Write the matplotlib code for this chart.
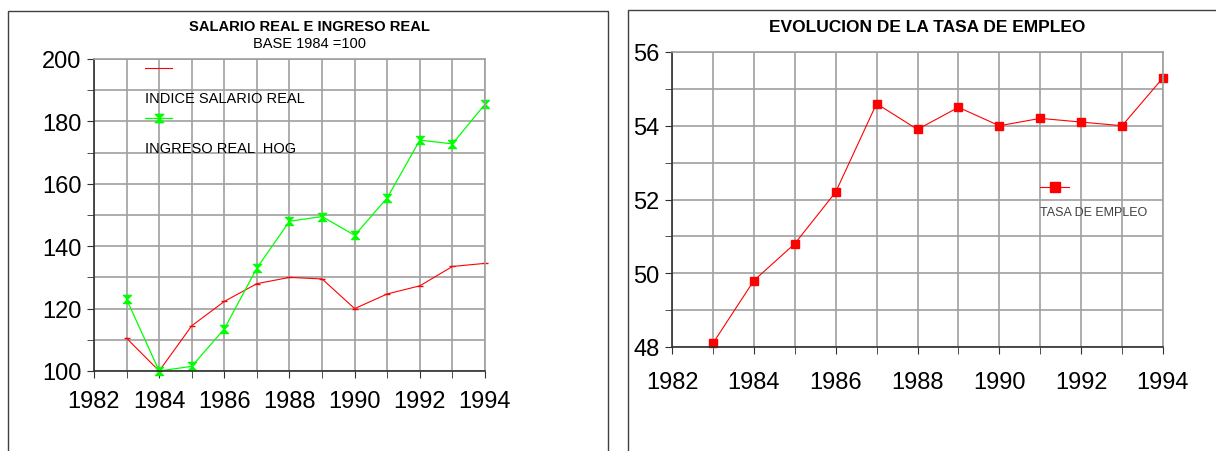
import numpy as np
import matplotlib
matplotlib.use("Agg")
import matplotlib.pyplot as plt
from matplotlib.lines import Line2D
from matplotlib.patches import Rectangle
from matplotlib.path import Path

plt.rcParams.update({"font.family": "Liberation Sans"})

years = [1983, 1984, 1985, 1986, 1987, 1988, 1989, 1990, 1991, 1992, 1993, 1994]
salario_real = [110.5, 100, 114.5, 122.3, 128, 130, 129.5, 120, 124.7, 127.3, 133.5, 134.5]
ingreso_real = [123, 100, 101.5, 113.5, 133, 148, 149.5, 143.5, 155.5, 174, 172.8, 185.5]
tasa_empleo = [48.1, 49.8, 50.8, 52.2, 54.6, 53.9, 54.5, 54.0, 54.2, 54.1, 54.0, 55.3]

RED = "#ff0000"
GREEN = "#00ff00"
GRID = "#a0a0a0"

# hourglass marker
hourglass = Path([(-1, 1), (1, 1), (-1, -1), (1, -1), (-1, 1)],
                 [Path.MOVETO, Path.LINETO, Path.LINETO, Path.LINETO, Path.CLOSEPOLY])

W, H = 1216, 452
fig = plt.figure(figsize=(W / 100, H / 100), dpi=100)


def fx(px):
    return px / W


def fy(py):
    return 1 - py / H


# panel borders
fig.add_artist(Rectangle((fx(8), fy(460)), fx(600), 448 / H, fill=False,
                         edgecolor="#404040", lw=1, transform=fig.transFigure))
fig.add_artist(Rectangle((fx(628), fy(460)), fx(620), 449 / H, fill=False,
                         edgecolor="#404040", lw=1, transform=fig.transFigure))


def style_axes(ax, ylim, yticks, ygrid, xpad):
    ax.set_xlim(1982, 1994)
    ax.set_ylim(*ylim)
    ax.set_xticks(np.arange(1982, 1995, 2))
    ax.set_xticks(np.arange(1982, 1995, 1), minor=True)
    ax.set_yticks(yticks)
    ax.set_yticks(ygrid, minor=True)
    ax.grid(True, which="both", color=GRID, lw=1.2)
    ax.set_axisbelow(True)
    for s in ax.spines.values():
        s.set_color(GRID)
        s.set_linewidth(1.2)
    ax.spines["left"].set_color("#303030")
    ax.spines["bottom"].set_color("#303030")
    ax.tick_params(which="both", direction="out", length=5, color="#303030",
                   labelsize=17, pad=4)
    ax.tick_params(axis="x", which="major", pad=xpad)


# left chart
ax1 = fig.add_axes([fx(94), fy(372), fx(485 - 94), (372 - 60) / H])
style_axes(ax1, (100, 200), np.arange(100, 201, 20), np.arange(100, 201, 10), 9)
ax1.plot(years, salario_real, color=RED, lw=0.8, marker="_", ms=5, clip_on=False)
ax1.plot(years, ingreso_real, color=GREEN, lw=0.9, marker=hourglass, ms=6,
         mec=GREEN, mfc=GREEN, mew=0.8, clip_on=False)

ax1.add_line(Line2D([0.13, 0.2], [0.97, 0.97], transform=ax1.transAxes, color=RED, lw=0.8))
ax1.text(0.13, 0.875, "INDICE SALARIO REAL", transform=ax1.transAxes, fontsize=10.5,
         va="center")
ax1.add_line(Line2D([0.13, 0.165, 0.2], [0.81, 0.81, 0.81], transform=ax1.transAxes,
                    color=GREEN, lw=0.9, marker=hourglass, ms=6, markevery=[1],
                    mfc=GREEN, mec=GREEN))
ax1.text(0.13, 0.715, "INGRESO REAL  HOG", transform=ax1.transAxes, fontsize=10.5,
         va="center")

fig.text(fx(309), fy(27), "SALARIO REAL E INGRESO REAL", ha="center", va="center",
         fontsize=10.6, fontweight="bold")
fig.text(fx(310), fy(44), "BASE 1984 =100", ha="center", va="center", fontsize=10.5)

# right chart
ax2 = fig.add_axes([fx(672), fy(348), fx(1163 - 672), (348 - 53) / H])
style_axes(ax2, (48, 56), np.arange(48, 57, 2), np.arange(48, 57, 1), 12)
ax2.plot(years, tasa_empleo, color=RED, lw=0.8, marker="s", ms=6.3, clip_on=False)

ax2.add_line(Line2D([0.75, 0.78, 0.808], [0.542, 0.542, 0.542], transform=ax2.transAxes,
                    color=RED, lw=0.8, marker="s", ms=6.5, markevery=[1]))
ax2.text(0.75, 0.458, "TASA DE EMPLEO", transform=ax2.transAxes, fontsize=9,
         color="#404040", va="center")

fig.text(fx(927), fy(28), "EVOLUCION DE LA TASA DE EMPLEO", ha="center", va="center",
         fontsize=12.5, fontweight="bold")

fig.savefig("out.png", dpi=100)
